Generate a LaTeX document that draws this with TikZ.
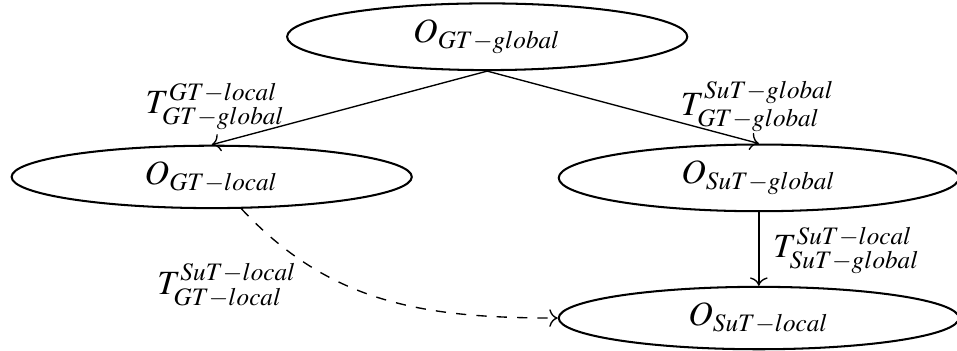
\documentclass[tikz,border=0pt]{standalone}
\usepackage{mathptmx}
\usepackage{tikz}
\usetikzlibrary{arrows.meta,positioning,shapes.geometric}

\tikzset{
  frame/.style={draw,semithick,ellipse,minimum width=4.14cm,inner ysep=2pt},
  tlabel/.style={inner sep=1pt}
}

\begin{document}
\begin{tikzpicture}
\useasboundingbox (0,0) rectangle (9.90,-3.63);
\node[frame] (ogg) at (5.04,-0.38) {$O_{GT-global}$};
\node[frame] (ogl) at (2.19,-1.83) {$O_{GT-local}$};
\node[frame] (osg) at (7.85,-1.84) {$O_{SuT-global}$};
\node[frame] (osl) at (7.85,-3.29) {$O_{SuT-local}$};
\draw[->] (ogg.south)--(ogl.north);
\node[tlabel] (t1) at (2.23,-1.10) {$T^{GT-local}_{GT-global}$};
\draw[->] (ogg.south)--(osg.north);
\node[tlabel] (t2) at (7.84,-1.10) {$T^{SuT-global}_{GT-global}$};
\draw[->] (osg.south)--(osl.north);
\node[tlabel] (t3) at (8.76,-2.59) {$T^{SuT-local}_{SuT-global}$};
\draw[->,dashed] (ogl) to[out=-47,in=180] (osl);
\node[tlabel] (t4) at (2.35,-2.95) {$T^{SuT-local}_{GT-local}$};
\end{tikzpicture}
\end{document}
